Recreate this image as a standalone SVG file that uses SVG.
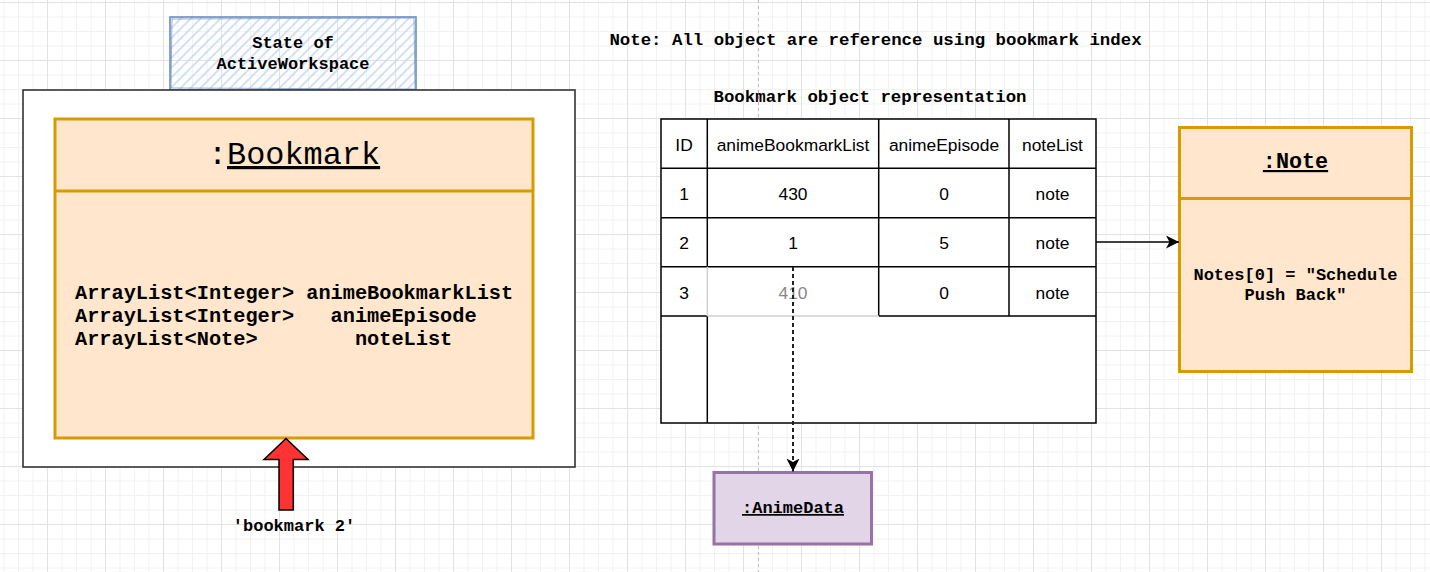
<svg xmlns="http://www.w3.org/2000/svg" width="1430" height="572" viewBox="0 0 1430 572">
<defs>
<style>
.mono{font-family:"Liberation Mono","Courier New",monospace;fill:#000}
.b{font-weight:bold}
.sans{font-family:"Liberation Sans",Arial,sans-serif;font-size:17.4px;fill:#000;text-anchor:middle}
.tbl{stroke:#000;stroke-width:1.5;fill:none}
.obj{fill:#ffe6cc;stroke:#d79b00;stroke-width:3}
.mid{text-anchor:middle}
</style>
<pattern id="grid" x="47" y="2" width="58" height="58" patternUnits="userSpaceOnUse">
<path d="M15 0V58M29.5 0V58M44 0V58M0 15H58M0 29.5H58M0 44H58" stroke="#f2f2f2" stroke-width="1" fill="none"/>
<path d="M0.5 0V58M0 0.5H58" stroke="#e2e2e2" stroke-width="1" fill="none"/>
</pattern>
<pattern id="hatch" width="7" height="7" patternUnits="userSpaceOnUse" patternTransform="rotate(45)">
<line x1="1" y1="0" x2="1" y2="7" stroke="#c6d9f3" stroke-width="1.6"/>
</pattern>
<marker id="arr" markerWidth="14" markerHeight="14" refX="13" refY="6.5" orient="auto" markerUnits="userSpaceOnUse">
<path d="M0,0 L13,6.5 L0,13 L3.5,6.5 Z" fill="#000"/>
</marker>
</defs>
<rect width="1430" height="572" fill="#fff"/>
<rect width="1430" height="572" fill="url(#grid)"/>
<line x1="758.5" y1="0" x2="758.5" y2="572" stroke="#bdbdbd" stroke-width="1" stroke-dasharray="3 3"/>

<g id="state-label">
<rect x="170" y="17" width="246" height="73" fill="url(#hatch)"/>
<rect x="170" y="17" width="246" height="73" fill="none" stroke="#6c8ebf" stroke-width="1.6"/>
<path d="M172 19 L414 18 L415 89 L171 88 Z" fill="none" stroke="#6c8ebf" stroke-width="1" opacity="0.7"/>
<text class="mono b mid" font-size="17" x="293" y="48">State of</text>
<text class="mono b mid" font-size="17" x="293" y="69">ActiveWorkspace</text>
</g>

<g id="workspace">
<rect x="23" y="90" width="552" height="377" fill="#fff" stroke="#333" stroke-width="1.6"/>
</g>

<g id="bookmark">
<rect class="obj" x="55" y="119" width="478" height="319"/>
<line x1="55" y1="191" x2="533" y2="191" stroke="#d79b00" stroke-width="3"/>
<text class="mono mid" font-size="31.9" x="294" y="164">:<tspan text-decoration="underline">Bookmark</tspan></text>
<text class="mono b" font-size="20.3" x="75" y="299" xml:space="preserve">ArrayList&lt;Integer&gt; animeBookmarkList</text>
<text class="mono b" font-size="20.3" x="75" y="322" xml:space="preserve">ArrayList&lt;Integer&gt;   animeEpisode</text>
<text class="mono b" font-size="20.3" x="75" y="345" xml:space="preserve">ArrayList&lt;Note&gt;        noteList</text>
</g>

<g id="pointer">
<path d="M286 438.5 L308 459.5 L293.3 459.5 L293.3 510 L279 510 L279 459.5 L264 459.5 Z" fill="#ff3333" stroke="#000" stroke-width="1.5" stroke-linejoin="miter"/>
<text class="mono b mid" font-size="17" x="294" y="531" xml:space="preserve">'bookmark 2'</text>
</g>

<g id="note-text">
<text class="mono b mid" font-size="17.4" x="875.5" y="45">Note: All object are reference using bookmark index</text>
</g>

<g id="table">
<text class="mono b mid" font-size="17.4" x="870" y="102">Bookmark object representation</text>
<rect x="661" y="119" width="435" height="304" fill="#fff" stroke="none"/>
<path class="tbl" d="M661 119H1096V423H661Z"/>
<path class="tbl" d="M707.3 119V266.7M707.3 316V423M878.7 119V316M1009 119V316"/>
<path class="tbl" d="M661 168.3H1096M661 217.7H1096M661 266.7H1096M661 316H707.3M878.7 316H1096"/>
<path d="M707.3 266.7V316M707.3 316H878.7" stroke="#d0d0d0" stroke-width="1.5" fill="none"/>
<text class="sans" x="684" y="150.5">ID</text>
<text class="sans" x="793" y="150.5">animeBookmarkList</text>
<text class="sans" x="944" y="150.5">animeEpisode</text>
<text class="sans" x="1052.5" y="150.5">noteList</text>
<text class="sans" x="684" y="200">1</text>
<text class="sans" x="793" y="200">430</text>
<text class="sans" x="944" y="200">0</text>
<text class="sans" x="1052.5" y="200">note</text>
<text class="sans" x="684" y="249.3">2</text>
<text class="sans" x="793" y="249.3">1</text>
<text class="sans" x="944" y="249.3">5</text>
<text class="sans" x="1052.5" y="249.3">note</text>
<text class="sans" x="684" y="299">3</text>
<text class="sans" x="793" y="299" style="fill:#888">410</text>
<text class="sans" x="944" y="299">0</text>
<text class="sans" x="1052.5" y="299">note</text>
</g>

<g id="note">
<rect class="obj" x="1179.5" y="127.5" width="232" height="244"/>
<line x1="1179.5" y1="198.5" x2="1411.5" y2="198.5" stroke="#d79b00" stroke-width="3"/>
<text class="mono b mid" font-size="21.75" x="1295.5" y="168" text-decoration="underline">:Note</text>
<text class="mono b mid" font-size="17" x="1295.5" y="280" xml:space="preserve">Notes[0] = "Schedule</text>
<text class="mono b mid" font-size="17" x="1295.5" y="299.5" xml:space="preserve">Push Back"</text>
</g>

<g id="animedata">
<rect x="714" y="472.5" width="157.5" height="71.5" fill="#e1d5e7" stroke="#9673a6" stroke-width="3"/>
<text class="mono b mid" font-size="17" x="793" y="513" text-decoration="underline">:AnimeData</text>
</g>

<g id="connectors">
<line x1="1096" y1="242" x2="1179" y2="242" stroke="#000" stroke-width="1.3" marker-end="url(#arr)"/>
<line x1="793" y1="267" x2="793" y2="471.5" stroke="#222" stroke-width="2" stroke-dasharray="4 3" marker-end="url(#arr)"/>
</g>
</svg>
